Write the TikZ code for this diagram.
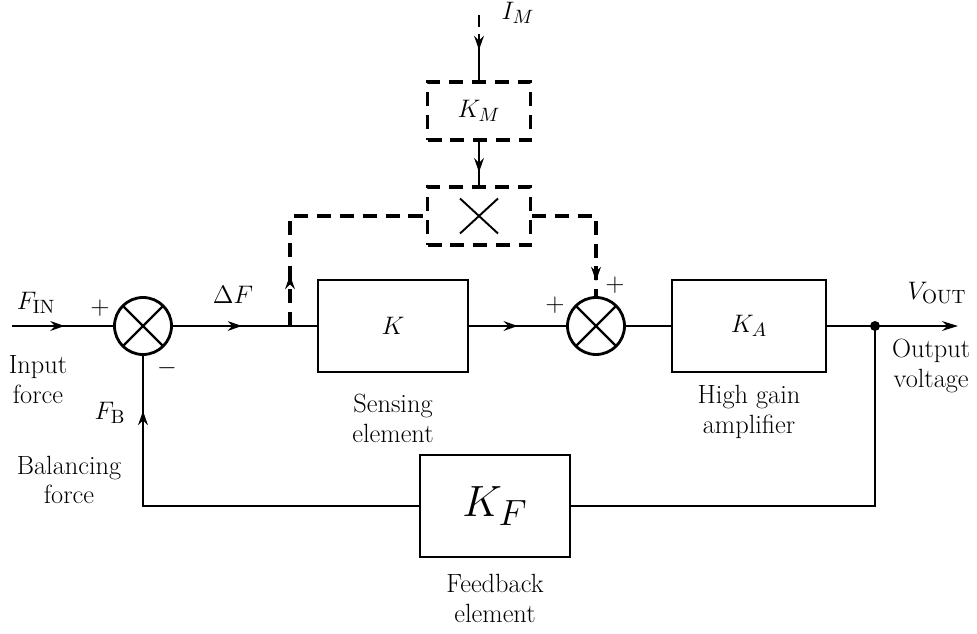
\documentclass[tikz,border=0pt]{standalone}
\usepackage{amsmath}
\usetikzlibrary{positioning,arrows.meta,decorations.markings,calc}
\tikzset{
  block/.style={
    draw,
    rectangle,
    line width=1.6pt,
    minimum width=3cm,
    minimum height=1.84cm,
    font=\fontsize{15}{17}\selectfont
  },
  dblock/.style={
    draw,
    rectangle,
    line width=1.9pt,
    dash pattern=on 8pt off 5pt,
    minimum width=2.06cm,
    minimum height=1.16cm,
    font=\fontsize{15}{17}\selectfont
  },
  sumjn/.style={
    draw,
    circle,
    line width=1.6pt,
    minimum size=1.14cm,
    inner sep=0pt,
    path picture={
      \draw[line width=1.4pt]
        (path picture bounding box.north west) -- (path picture bounding box.south east)
        (path picture bounding box.north east) -- (path picture bounding box.south west);
    }
  },
  multbox/.style={
    dblock,
    path picture={
      \draw[solid, line width=1.1pt]
        ($(path picture bounding box.center)+(-0.38,0.35)$) -- ($(path picture bounding box.center)+(0.38,-0.35)$)
        ($(path picture bounding box.center)+(0.38,0.35)$) -- ($(path picture bounding box.center)+(-0.38,-0.35)$);
    }
  },
  sig/.style={line width=1.4pt},
  dsig/.style={line width=1.9pt, dash pattern=on 8pt off 5pt},
  mid arrow/.style={
    postaction={decorate},
    decoration={markings, mark=at position #1 with {\arrow{Stealth[length=8pt,width=5.5pt]}}}
  },
  lbl/.style={font=\fontsize{15}{17}\selectfont, align=center, inner sep=1pt}
}

\begin{document}
\begin{tikzpicture}

  \useasboundingbox (0,0) rectangle (19.54,-12.68);

  % Blocks and summing junctions
  \node[sumjn] (j1) at (2.86,-6.52) {};
  \node[block] (K) at (7.86,-6.52) {$K$};
  \node[sumjn] (j2) at (11.92,-6.52) {};
  \node[block, minimum width=3.08cm] (KA) at (14.98,-6.52) {$K_A$};
  \node[block, minimum height=2.04cm, font=\fontsize{30}{30}\selectfont] (KF) at (9.9,-10.12) {$K_F$};
  \node[dblock] (KM) at (9.58,-2.22) {$K_M$};
  \node[multbox] (X) at (9.58,-4.32) {};

  % Free ends
  \coordinate (in) at (0.24,-6.52);
  \coordinate (out) at (19.16,-6.52);
  \coordinate (tap) at (17.5,-6.52);
  \coordinate (br) at (5.8,-6.52);
  \coordinate (imtop) at (9.58,-0.3);

  % Forward path
  \draw[sig, mid arrow=0.52] (in) -- (j1.west);
  \draw[sig, mid arrow=0.48] (j1.east) -- (K.west);
  \draw[sig, mid arrow=0.5] (K.east) -- (j2.west);
  \draw[sig] (j2.east) -- (KA.west);
  \draw[sig] (KA.east) -- (tap);
  \draw[sig, -{Stealth[length=9pt,width=5.5pt]}] (tap) -- (out);
  \fill (tap) circle (0.1);

  % Feedback path
  \draw[sig] (tap) |- (KF.east);
  \draw[sig, mid arrow=-1.1cm] (KF.west) -| (j1.south);

  % Modifying input (dashed)
  \draw[sig, dash pattern=on 7pt off 4pt on 200pt, mid arrow=0.7cm] (imtop) -- (KM.north);
  \draw[sig, mid arrow=0.7] (KM.south) -- (X.north);
  \draw[dsig, mid arrow=1.02cm] (br) |- (X.west);
  \draw[dsig, mid arrow=-0.3cm] (X.east) -| (j2.north);

  % Signal labels
  \node[lbl] (fin) at (0.72,-6.06) {$F_{\mathrm{IN}}$};
  \node[lbl] (p1) at (2.0,-6.16) {$+$};
  \node[lbl] (m1) at (3.34,-7.36) {$-$};
  \node[lbl] (fb) at (2.2,-8.26) {$F_{\mathrm{B}}$};
  \node[lbl] (df) at (4.66,-5.9) {$\Delta F$};
  \node[lbl] (p2) at (11.1,-6.1) {$+$};
  \node[lbl] (p3) at (12.3,-5.7) {$+$};
  \node[lbl] (vout) at (18.74,-5.86) {$V_{\mathrm{OUT}}$};
  \node[lbl] (im) at (10.36,-0.26) {$I_M$};

  % Descriptions
  \node[lbl] (inlbl) at (0.76,-7.6) {Input\\force};
  \node[lbl] (bflbl) at (1.38,-9.6) {Balancing\\force};
  \node[lbl, anchor=west] (outlbl) at (17.8,-7.32) {Output\\voltage};
  \node[lbl, below=0.38cm of K] (klbl) {Sensing\\element};
  \node[lbl, below=0.2cm of KA] (kalbl) {High gain\\amplifier};
  \node[lbl, below=0.28cm of KF] (kflbl) {Feedback\\element};

\end{tikzpicture}
\end{document}
